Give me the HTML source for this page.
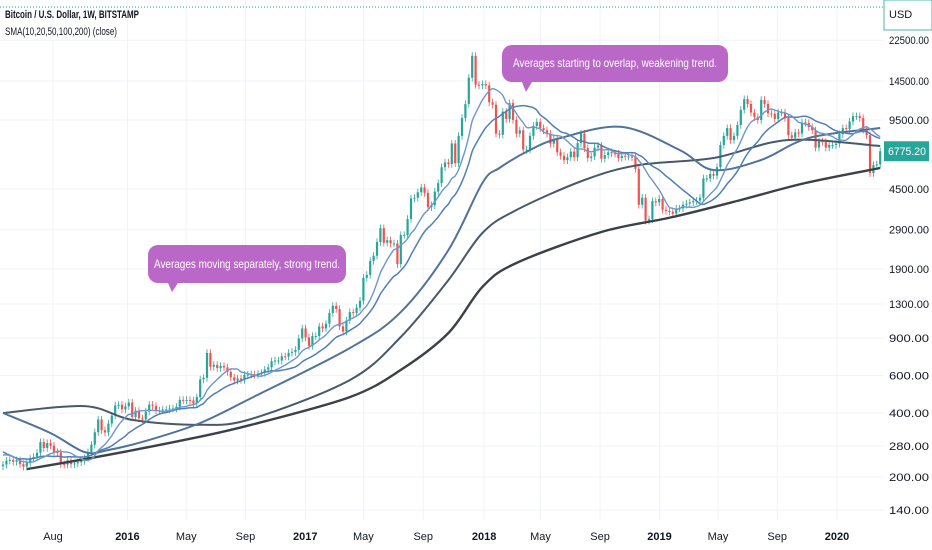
<!DOCTYPE html>
<html><head><meta charset="utf-8"><style>
html,body{margin:0;padding:0;background:#fff;}
svg{display:block;font-family:"Liberation Sans",sans-serif;}
</style></head><body>
<svg id="chart" width="932" height="550" viewBox="0 0 932 550" xmlns="http://www.w3.org/2000/svg">
<g id="grid"></g>
<line x1="0" y1="7" x2="884" y2="7" stroke="#26a69a" stroke-dasharray="1,2" stroke-width="1"/>
<g id="candles"></g>
<g id="smas"></g>
<g>
<text x="5" y="18" font-size="11" font-weight="bold" fill="#131722" textLength="134" lengthAdjust="spacingAndGlyphs">Bitcoin / U.S. Dollar, 1W, BITSTAMP</text>
<text x="5" y="35" font-size="11" fill="#131722" textLength="112" lengthAdjust="spacingAndGlyphs">SMA(10,20,50,100,200) (close)</text>
</g>
<g>
<path d="M158,245 H336 a10,10 0 0 1 10,10 V273 a10,10 0 0 1 -10,10 H178 L172,292 L168,283 H158 a10,10 0 0 1 -10,-10 V255 a10,10 0 0 1 10,-10 Z" fill="#ba68c8"/>
<text x="247" y="268" font-size="12" fill="#fff" text-anchor="middle" textLength="186" lengthAdjust="spacingAndGlyphs">Averages moving separately, strong trend.</text>
</g>
<g>
<path d="M512,45 H718 a10,10 0 0 1 10,10 V72 a10,10 0 0 1 -10,10 H532 L526,92 L522,82 H512 a10,10 0 0 1 -10,-10 V55 a10,10 0 0 1 10,-10 Z" fill="#ba68c8"/>
<text x="615" y="67" font-size="12" fill="#fff" text-anchor="middle" textLength="204" lengthAdjust="spacingAndGlyphs">Averages starting to overlap, weakening trend.</text>
</g>
<g id="yaxis"></g>
<g id="xaxis"></g>
<g>
<rect x="884" y="0" width="48" height="30" fill="#fff" stroke="#26a69a" stroke-width="0.8"/>
<text x="889" y="18" font-size="11" fill="#131722">USD</text>
</g>
</svg>
<script>
// ---- data ----
const preCloses = [350,320,320,315,275,210,255,230,225,220,235,255,275,290,280,250,245,255,225];
const closes = [
229,239,241,236,240,230,224,233,244,249,260,292,274,289,281,262,261,230,229,240,230,232,235,238,246,262,284,325,373,332,324,357,389,434,437,416,430,
448,383,410,378,373,406,438,432,411,412,416,416,420,420,428,461,458,460,458,444,475,575,585,765,660,673,650,665,655,624,588,568,581,572,605,606,608,605,613,617,640,655,700,705,705,738,736,766,774,791,896,998,
905,826,919,919,1020,998,1050,1180,1275,1230,1020,965,1087,1190,1180,1250,1347,1725,1780,2070,2190,2540,2950,2520,2590,2500,2500,2000,2740,2740,3260,4070,4100,4350,4580,4320,3700,3780,4380,4800,5700,6000,5900,7370,5950,8000,9700,11300,15000,19000,13900,13800,
14000,13800,11500,11200,8200,8100,10400,9600,11400,9500,8200,8500,6900,6900,8000,8900,9300,8700,8500,8200,7350,7700,6700,6450,6150,6350,6750,6350,7400,8200,7000,6300,6400,7050,7200,6250,6500,6700,6620,6600,6300,6450,6400,6400,6350,5600,3800,4100,3200,3250,3950,3900,4050,
3600,3550,3530,3450,3650,3650,3800,3850,3900,3950,3970,4100,5050,5050,5300,5200,5700,7250,8000,8700,7650,8000,9000,10600,11900,11300,10300,9800,9500,11800,11300,10200,10150,9600,10300,10300,9700,8050,7850,8300,8220,9250,9200,8800,8500,7050,7550,7500,7050,7250,7250,7350,
8150,8700,8600,9350,9900,9900,9700,8550,8050,5350,5830,5880,6775.2];
const sma50Weeks = [0,14,24,31,43,58,73,102,117,131,141,146,155,164,182,199,209,223,237,258];
const sma50Values = [400,322,262,268,299,359,470,807,1191,2328,4808,5650,6870,7820,8810,6870,5530,6166,7820,8710];
const sma100Weeks = [0,24,38,58,73,102,117,131,141,151,171,187,209,231,258];
const sma100Values = [400,431,371,352,375,571,910,1683,2800,3589,4966,5840,6300,7650,7170];
const sma200Weeks = [7,29,56,73,102,117,131,141,151,176,197,217,236,258];
const sma200Values = [218,251,305,352,475,637,950,1563,2023,2831,3327,4000,4808,5650];
const priceTicks = [22500,14500,9500,4500,2900,1900,1300,900,600,400,280,200,140];
const dateLabels = ["Aug","2016","May","Sep","2017","May","Sep","2018","May","Sep","2019","May","Sep","2020"];
const dateWeeks = [14.7,36.6,53.9,71.3,88.9,106,123.6,141.5,158.1,175.6,193.1,210.3,227.7,245.3];
const lastPrice = 6775.20;

// ---- scales ----
const NS="http://www.w3.org/2000/svg";
function xOf(w){return 3+w*3.4;}
function yOf(p){return 413+(2.602-Math.log10(p))*213;}
function mk(tag,attrs,parent){const e=document.createElementNS(NS,tag);for(const k in attrs)e.setAttribute(k,attrs[k]);parent.appendChild(e);return e;}

const grid=document.getElementById('grid');
const yaxis=document.getElementById('yaxis');
const xaxis=document.getElementById('xaxis');
priceTicks.forEach(p=>{
  const y=yOf(p);
  const gl=mk('line',{x1:0,x2:884,y1:y,y2:y,stroke:'#f0f3fa','stroke-width':1},grid);
  
  
  const t=mk('text',{x:889,y:y+4,'font-size':11,fill:'#131722',textLength:40,lengthAdjust:'spacingAndGlyphs'},yaxis);
  t.textContent=p.toFixed(2);
  
  
});
dateLabels.forEach((d,i)=>{
  const x=xOf(dateWeeks[i]);
  const gl=mk('line',{x1:x,x2:x,y1:0,y2:520,stroke:'#f0f3fa','stroke-width':1},grid);
  
  
  const bold=/^\d/.test(d);
  const t=mk('text',{x:x,y:540,'font-size':11,fill:'#131722','text-anchor':'middle','font-weight':bold?'bold':'normal'},xaxis);
  t.textContent=d;
  
  
});

// candles
const cg=document.getElementById('candles');
const all=preCloses.concat(closes);
closes.forEach((c,i)=>{
  const o=all[preCloses.length+i-1];
  const up=c>=o;
  const col=up?'#26a69a':'#ef5350';
  const x=xOf(i);
  const hi=Math.max(o,c)*1.04, lo=Math.min(o,c)*0.96;
  const w=mk('line',{x1:x,x2:x,y1:yOf(hi),y2:yOf(lo),stroke:col,'stroke-width':0.8},cg);
  
  
  const yt=yOf(Math.max(o,c)), yb=yOf(Math.min(o,c));
  const b=mk('rect',{x:x-1.1,y:yt,width:2.2,height:Math.max(1,yb-yt),fill:col},cg);
  
  
});

// SMAs
const sg=document.getElementById('smas');
function smooth(pts){
  let d='M'+pts[0][0].toFixed(1)+','+pts[0][1].toFixed(1);
  for(let i=0;i<pts.length-1;i++){
    const p0=pts[i-1]||pts[i],p1=pts[i],p2=pts[i+1],p3=pts[i+2]||p2;
    const c1=[p1[0]+(p2[0]-p0[0])/6,p1[1]+(p2[1]-p0[1])/6];
    const c2=[p2[0]-(p3[0]-p1[0])/6,p2[1]-(p3[1]-p1[1])/6];
    d+=`C${c1[0].toFixed(1)},${c1[1].toFixed(1)} ${c2[0].toFixed(1)},${c2[1].toFixed(1)} ${p2[0].toFixed(1)},${p2[1].toFixed(1)}`;
  }
  return d;
}
function computed(n){
  const pts=[];
  closes.forEach((c,i)=>{
    const k=preCloses.length+i;
    if(k+1<n)return;
    let s=0;for(let j=k-n+1;j<=k;j++)s+=all[j];
    pts.push([xOf(i),yOf(s/n)]);
  });
  return pts;
}
function sampled(ws,vs){return ws.map((w,i)=>[xOf(w),yOf(vs[i])]);}
const lines=[
 ['sma-200-line',sampled(sma200Weeks,sma200Values),'#3c4047',2.4],
 ['sma-100-line',sampled(sma100Weeks,sma100Values),'#48596b',2],
 ['sma-50-line',sampled(sma50Weeks,sma50Values),'#51729a',2],
 ['sma-20-line',computed(20),'#4f7fb5',1.5],
 ['sma-10-line',computed(10),'#6b97cc',1.4]
];
lines.forEach(l=>{
  const p=mk('path',{d:smooth(l[1]),fill:'none',stroke:l[2],'stroke-width':l[3],'stroke-linejoin':'round'},sg);
  
  
});

// last price label
const ly=yOf(lastPrice);
const lr=mk('rect',{x:884,y:ly-10,width:45,height:20,fill:'#26a69a'},yaxis);


const lt=mk('text',{x:888,y:ly+4,'font-size':11,fill:'#fff',textLength:38,lengthAdjust:'spacingAndGlyphs'},yaxis);
lt.textContent=lastPrice.toFixed(2);


</script>
</body></html>
